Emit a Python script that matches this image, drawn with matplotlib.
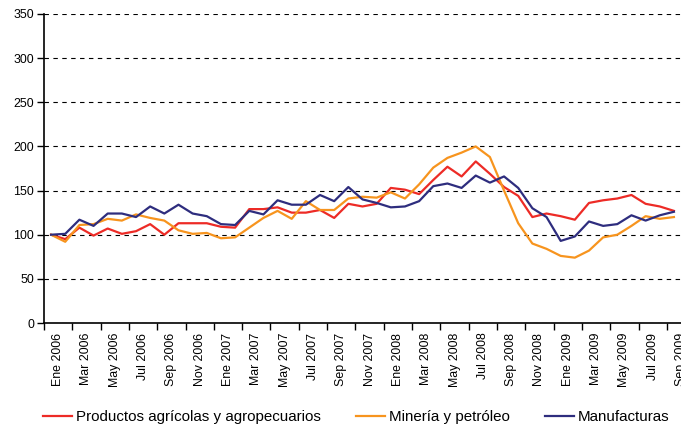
import matplotlib
matplotlib.use("Agg")
import matplotlib.pyplot as plt
import numpy as np

plt.rcParams['font.family'] = ['Liberation Sans', 'DejaVu Sans']

months = ["Ene", "Feb", "Mar", "Abr", "May", "Jun", "Jul", "Ago", "Sep", "Oct", "Nov", "Dic"]
categories = [f"{m} {y}" for y in (2006, 2007, 2008) for m in months] + \
             [f"{m} 2009" for m in months[:9]]

agricolas = [100, 95, 108, 99, 107, 101, 104, 112, 100, 113, 113, 113,
             109, 108, 129, 129, 131, 125, 125, 128, 119, 135, 132, 135,
             153, 151, 146, 162, 177, 166, 183, 169, 154, 144, 120, 124,
             121, 117, 136, 139, 141, 145, 135, 132, 127]
mineria = [100, 92, 111, 112, 118, 116, 123, 119, 116, 105, 101, 102,
           96, 97, 108, 119, 127, 118, 138, 128, 128, 141, 143, 142,
           148, 141, 157, 176, 187, 193, 200, 188, 150, 113, 90, 84,
           76, 74, 82, 97, 100, 110, 121, 118, 120]
manufacturas = [100, 101, 117, 110, 124, 124, 120, 132, 124, 134, 124, 121,
                112, 111, 127, 123, 139, 134, 134, 145, 138, 154, 140, 136,
                131, 132, 138, 155, 158, 153, 167, 159, 166, 153, 130, 120,
                93, 98, 115, 110, 112, 122, 116, 122, 126]

series_names = ["Productos agrícolas y agropecuarios", "Minería y petróleo", "Manufacturas"]
colors = ["#ED2B26", "#F7941E", "#2E2D7E"]

fig = plt.figure(figsize=(6.81, 4.26), dpi=100)
ax = fig.add_axes([44/681, 1 - 323/426, 1 - 44/681, (323 - 14)/426])

x = np.arange(len(categories))
for vals, name, c in zip([agricolas, mineria, manufacturas], series_names, colors):
    ax.plot(x, vals, color=c, lw=1.6, label=name, solid_joinstyle='round')

ax.set_xlim(-0.5, len(categories) - 0.5)
ax.set_ylim(0, 350)
ax.set_yticks(np.arange(0, 351, 50))
ax.yaxis.grid(True, color='black', linestyle=(0, (4, 4)), linewidth=0.8)
ax.set_axisbelow(True)

# major ticks at boundaries every 2 categories, labels centered between
ax.set_xticks(np.arange(-0.5, len(categories), 2))
ax.set_xticklabels([])
ax.set_xticks(np.arange(0.5, len(categories) + 1, 2), minor=True)
ax.set_xticklabels(categories[::2], minor=True, rotation=90, fontsize=8.9)
ax.tick_params(axis='x', which='minor', length=0, pad=7)
ax.tick_params(axis='x', which='major', length=5, width=1, direction='out')
ax.tick_params(axis='y', length=5, width=1, direction='out', labelsize=8.9, pad=2)

for s in ['top', 'right']:
    ax.spines[s].set_visible(False)
for s in ['left', 'bottom']:
    ax.spines[s].set_linewidth(1.2)

fig.legend(loc='center left', bbox_to_anchor=(43/681, 1 - 417/426), ncol=3,
           frameon=False, fontsize=10.9, handlelength=1.92, handletextpad=0.27,
           columnspacing=2.3, borderpad=0, borderaxespad=0)

fig.savefig("out.png", dpi=100)
